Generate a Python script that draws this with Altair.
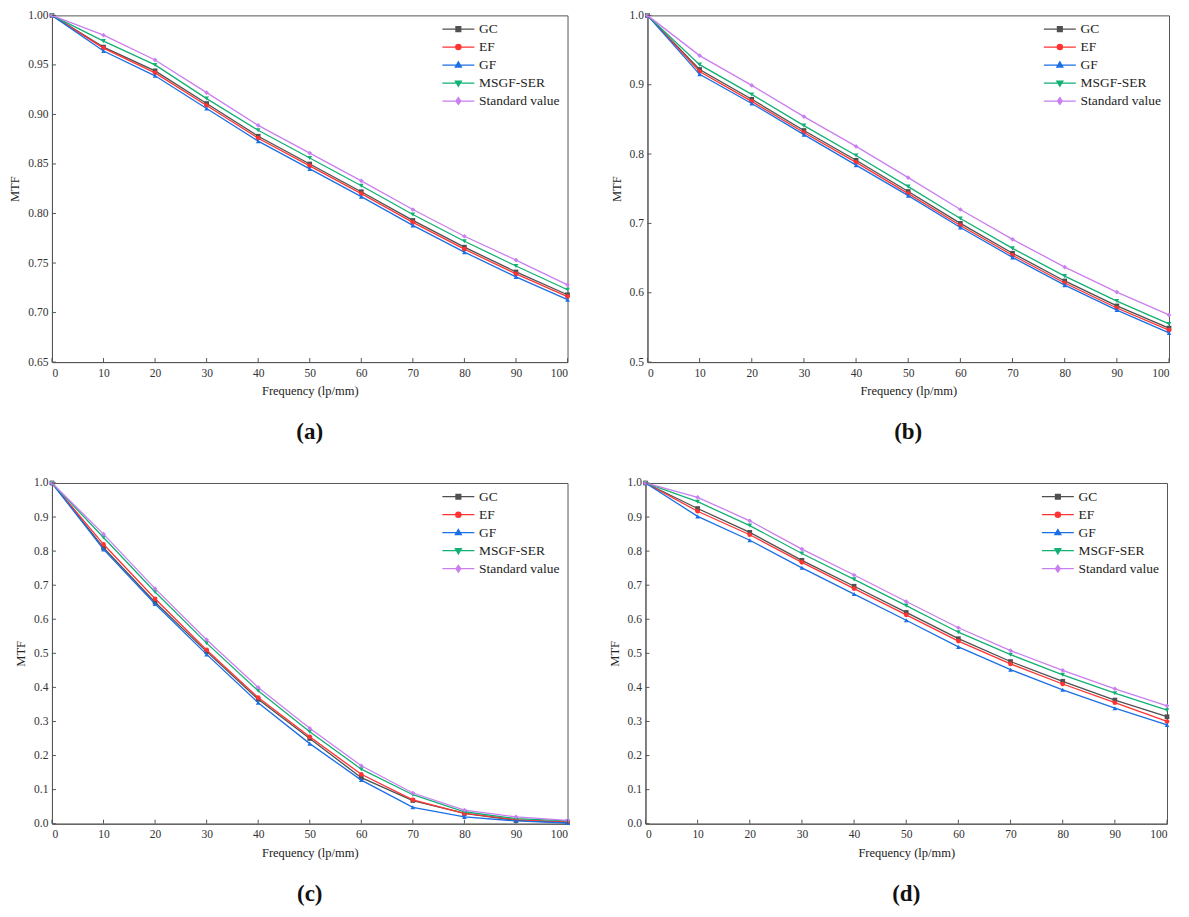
import altair as alt
import pandas as pd

freq = [0, 10, 20, 30, 40, 50, 60, 70, 80, 90, 100]
series = ["GC", "EF", "GF", "MSGF-SER", "Standard value"]
colors = ["#505050", "#ff3333", "#1a6fe6", "#12b074", "#c97ff0"]
shapes = ["square", "circle", "triangle-up", "triangle-down", "diamond"]
legend_paths = [
    "M-4,0H4M-0.6,-0.6H0.6V0.6H-0.6Z",
    "M-4,0H4M-0.65,0A0.65,0.65 0 1,0 0.65,0A0.65,0.65 0 1,0 -0.65,0Z",
    "M-4,0H4M0,-0.8L0.75,0.5L-0.75,0.5Z",
    "M-4,0H4M0,0.8L0.75,-0.5L-0.75,-0.5Z",
    "M-4,0H4M0,-0.85L0.6,0L0,0.85L-0.6,0Z",
]

# panel (a)
a_gc = [1.0, 0.968, 0.944, 0.911, 0.878, 0.850, 0.822, 0.793, 0.766, 0.741, 0.718]
a_ef = [1.0, 0.967, 0.942, 0.909, 0.876, 0.848, 0.820, 0.791, 0.764, 0.739, 0.716]
a_gf = [1.0, 0.964, 0.939, 0.906, 0.873, 0.845, 0.817, 0.788, 0.761, 0.736, 0.713]
a_ms = [1.0, 0.974, 0.950, 0.916, 0.884, 0.856, 0.828, 0.799, 0.772, 0.747, 0.723]
a_st = [1.0, 0.980, 0.955, 0.922, 0.889, 0.861, 0.833, 0.804, 0.777, 0.753, 0.728]
# panel (b)
b_gc = [1.0, 0.922, 0.879, 0.834, 0.791, 0.746, 0.700, 0.657, 0.617, 0.581, 0.549]
b_ef = [1.0, 0.919, 0.876, 0.831, 0.788, 0.743, 0.697, 0.654, 0.614, 0.578, 0.546]
b_gf = [1.0, 0.915, 0.873, 0.828, 0.784, 0.740, 0.694, 0.651, 0.611, 0.575, 0.542]
b_ms = [1.0, 0.929, 0.886, 0.841, 0.798, 0.753, 0.707, 0.664, 0.624, 0.588, 0.555]
b_st = [1.0, 0.942, 0.899, 0.854, 0.811, 0.766, 0.720, 0.677, 0.637, 0.601, 0.568]
# panel (c)
c_gc = [1.0, 0.810, 0.650, 0.505, 0.365, 0.250, 0.135, 0.068, 0.030, 0.010, 0.003]
c_ef = [1.0, 0.820, 0.660, 0.510, 0.370, 0.255, 0.145, 0.070, 0.030, 0.012, 0.005]
c_gf = [1.0, 0.805, 0.645, 0.497, 0.355, 0.235, 0.128, 0.048, 0.020, 0.008, 0.002]
c_ms = [1.0, 0.840, 0.680, 0.530, 0.390, 0.270, 0.160, 0.085, 0.035, 0.015, 0.008]
c_st = [1.0, 0.850, 0.690, 0.540, 0.400, 0.280, 0.170, 0.090, 0.040, 0.020, 0.010]
# panel (d)
d_gc = [1.0, 0.925, 0.855, 0.773, 0.697, 0.620, 0.543, 0.476, 0.418, 0.363, 0.314]
d_ef = [1.0, 0.917, 0.848, 0.767, 0.690, 0.613, 0.536, 0.469, 0.410, 0.355, 0.300]
d_gf = [1.0, 0.902, 0.832, 0.751, 0.674, 0.597, 0.519, 0.452, 0.393, 0.339, 0.290]
d_ms = [1.0, 0.945, 0.875, 0.793, 0.717, 0.640, 0.562, 0.496, 0.437, 0.383, 0.333]
d_st = [1.0, 0.958, 0.889, 0.806, 0.730, 0.652, 0.575, 0.508, 0.450, 0.396, 0.346]

x_ticks = [0, 10, 20, 30, 40, 50, 60, 70, 80, 90, 100]
a_yticks = [0.65, 0.70, 0.75, 0.80, 0.85, 0.90, 0.95, 1.00]
b_yticks = [0.5, 0.6, 0.7, 0.8, 0.9, 1.0]
cd_yticks = [0.0, 0.1, 0.2, 0.3, 0.4, 0.5, 0.6, 0.7, 0.8, 0.9, 1.0]

FONT = "Liberation Serif"


def make_df(vals):
    rows = []
    for s, v in zip(series, vals):
        for f, y in zip(freq, v):
            rows.append({"freq": f, "mtf": y, "series": s})
    return pd.DataFrame(rows)


def panel(vals, ydom, yticks, fmt, w, h, cap):
    df = make_df(vals)
    xs = alt.Scale(domain=[0, 100], nice=False, zero=False)
    ys = alt.Scale(domain=ydom, nice=False, zero=False)
    xenc = alt.X("freq:Q", scale=xs, axis=alt.Axis(
        values=x_ticks, title="Frequency (lp/mm)", ticks=False, labelPadding=5,
        titlePadding=6, labelOverlap=False))
    yenc = alt.Y("mtf:Q", scale=ys, axis=alt.Axis(
        values=yticks, format=fmt, title="MTF", ticks=False, labelPadding=4,
        titlePadding=6, labelOverlap=False))
    layers = []
    for s, c, sh in zip(series, colors, shapes):
        layers.append(alt.Chart(df).transform_filter(alt.datum.series == s).mark_line(
            strokeWidth=1.3, color=c).encode(x=xenc, y=yenc, order=alt.Order("freq:Q")))
        layers.append(alt.Chart(df).transform_filter(alt.datum.series == s).mark_point(
            filled=True, size=22, opacity=1, color=c, shape=sh).encode(
            x=xenc, y=yenc))
    leg = alt.Legend(title=None, orient="top-right", offset=5, symbolSize=64,
                     symbolStrokeWidth=1.3, symbolOpacity=1, labelFont=FONT,
                     labelFontSize=13.5, labelColor="#222", labelOffset=14,
                     rowPadding=3, padding=2)
    cs = alt.Scale(domain=series, range=colors)
    layers.append(alt.Chart(df).mark_point(filled=True, opacity=0).encode(
        x=xenc, y=yenc,
        color=alt.Color("series:N", scale=cs, legend=leg),
        stroke=alt.Stroke("series:N", scale=cs, legend=leg),
        shape=alt.Shape("series:N", scale=alt.Scale(domain=series, range=legend_paths),
                        legend=leg)))
    tdf = pd.DataFrame({"freq": x_ticks})
    layers.append(alt.Chart(tdf).mark_rule(color="#555", strokeWidth=1).encode(
        x=xenc, y=alt.value(h), y2=alt.value(h - 4)))
    ydf = pd.DataFrame({"mtf": yticks})
    layers.append(alt.Chart(ydf).mark_rule(color="#555", strokeWidth=1).encode(
        y=yenc, x=alt.value(0), x2=alt.value(4)))
    return alt.layer(*layers).properties(
        width=w, height=h,
        title=alt.Title(cap, orient="bottom", font=FONT, fontSize=23,
                        fontWeight="bold", color="#111", offset=24))


pa = panel([a_gc, a_ef, a_gf, a_ms, a_st], [0.65, 1.0], a_yticks, ".2f", 516, 347, "(a)")
pb = panel([b_gc, b_ef, b_gf, b_ms, b_st], [0.5, 1.0], b_yticks, ".1f", 522, 347, "(b)")
pc = panel([c_gc, c_ef, c_gf, c_ms, c_st], [0.0, 1.0], cd_yticks, ".1f", 516, 341, "(c)")
pd_ = panel([d_gc, d_ef, d_gf, d_ms, d_st], [0.0, 1.0], cd_yticks, ".1f", 522, 341, "(d)")

RS = dict(color="independent", stroke="independent", shape="independent")
row1 = alt.hconcat(pa, pb, spacing=30).resolve_scale(**RS).resolve_legend(**RS)
row2 = alt.hconcat(pc, pd_, spacing=28).resolve_scale(**RS).resolve_legend(**RS)
chart = alt.vconcat(row1, row2, spacing=31).resolve_scale(**RS).resolve_legend(
    **RS).configure(padding=0, background="white").configure_axis(
    labelFont=FONT, titleFont=FONT, labelFontSize=11.5, titleFontSize=12.5,
    titleFontWeight="normal", labelColor="#333", titleColor="#222",
    domainColor="#555", grid=False).configure_view(
    stroke="#555", strokeWidth=1)

chart.save("out.html", embed_options={"renderer": "svg", "actions": False})
